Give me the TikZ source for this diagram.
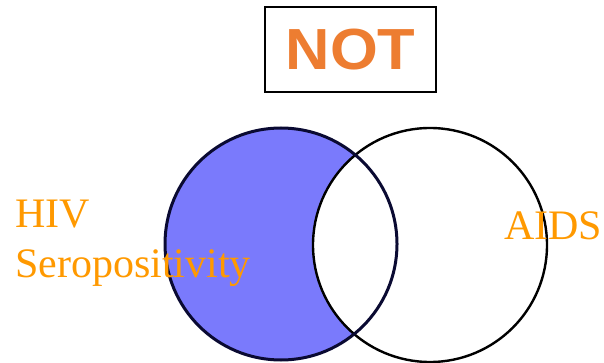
\documentclass[tikz,border=0pt]{standalone}
\usepackage{fontspec}
\setmainfont{Liberation Serif}
\newfontfamily\notfont{Liberation Sans}
\definecolor{notorange}{RGB}{237,125,49}
\definecolor{txtorange}{RGB}{255,153,0}
\definecolor{setblue}{RGB}{122,122,252}
\definecolor{navy}{RGB}{10,10,50}
\begin{document}
\begin{tikzpicture}[x=1pt,y=-1pt,
  lbl/.style={anchor=base west,inner sep=0pt,text=txtorange,font=\fontsize{42}{48}\selectfont},
  notbox/.style={draw=black,line width=2.2pt,minimum width=171pt,minimum height=85pt,inner sep=0pt,text=notorange,font=\notfont\bfseries\fontsize{58}{60}\selectfont}]
\useasboundingbox (0,0) rectangle (604,363);
\node[notbox] (not) at (350.5,49.5) {\scalebox{1.06}[1]{NOT}};
% sets
\coordinate (cl) at (281,244);
\coordinate (cr) at (430,245);
\fill[setblue] (cl) circle (116);
\begin{scope}
  \clip (cl) circle (116);
  \fill[white] (cr) circle (117);
\end{scope}
\draw[black,line width=2.4pt] (cr) circle (117);
\draw[navy,line width=3pt] (cl) circle (116);
\node[lbl] (hiv) at (15,227) {HIV};
\node[lbl] (sero) at (15,277) {Seropositivity};
\node[lbl] (aids) at (504,239) {AIDS};
\end{tikzpicture}
\end{document}
